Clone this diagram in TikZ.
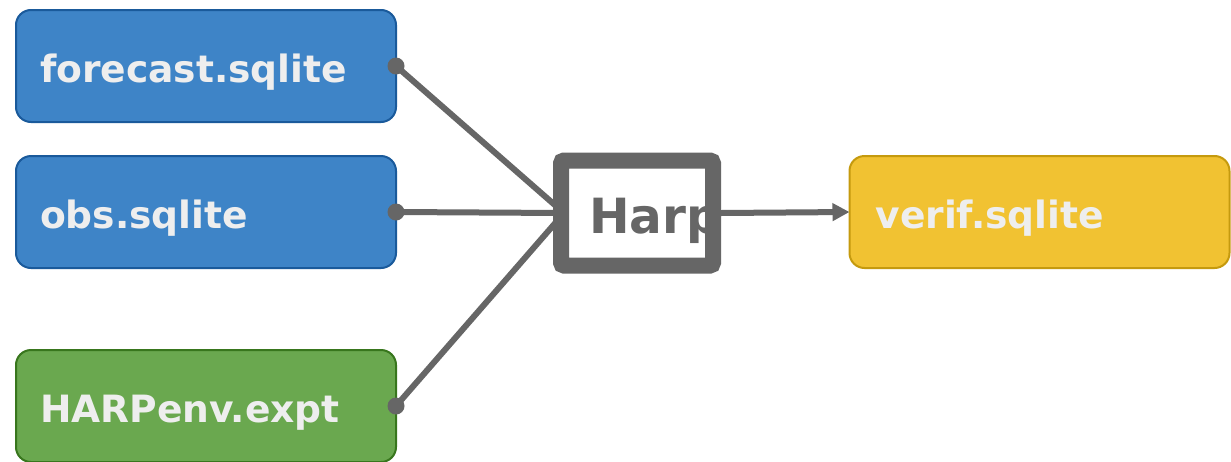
\documentclass[tikz,border=0pt]{standalone}
\usepackage{fontspec}
\setmainfont{DejaVu Sans}
\usetikzlibrary{arrows.meta}
\definecolor{bluefill}{HTML}{3E84C7}
\definecolor{blueline}{HTML}{1A5A9B}
\definecolor{greenfill}{HTML}{6AA84F}
\definecolor{greenline}{HTML}{38761D}
\definecolor{yellowfill}{HTML}{F1C232}
\definecolor{yellowline}{HTML}{C59A0E}
\definecolor{txt}{HTML}{EEEEEE}
\definecolor{conn}{HTML}{666666}
\tikzset{
  filebox/.style={rectangle, rounded corners=15pt, line width=2pt, outer sep=0pt,
    minimum width=380pt, minimum height=112pt, text width=332pt, inner xsep=24pt,
    align=left, text height=32pt, text depth=0pt, text=txt,
    font=\fontsize{37.6}{44}\selectfont\bfseries},
  inbox/.style={filebox, fill=bluefill, draw=blueline},
  envbox/.style={filebox, fill=greenfill, draw=greenline},
  outbox/.style={filebox, fill=yellowfill, draw=yellowline, inner xsep=26pt, text width=328pt},
  harpbox/.style={rectangle, draw=conn, line width=16pt, rounded corners=3pt,
    minimum width=152pt, minimum height=105pt},
  harptext/.style={text=conn, font=\fontsize{48.5}{56}\selectfont\bfseries, inner sep=0pt},
  link/.style={draw=conn, line width=6pt},
  dot/.style={circle, fill=conn, minimum size=17pt, inner sep=0pt},
}
\begin{document}
\begin{tikzpicture}[x=1pt,y=-1pt]
\clip (0,0) rectangle (1231,461);
\fill[white] (0,0) rectangle (1231,461);
\node[inbox] (fc) at (206,66) {forecast.sqlite};
\node[inbox] (obs) at (206,212) {obs.sqlite};
\node[envbox] (env) at (206,406) {HARPenv.expt};
\node[outbox] (verif) at (1039.5,212) {verif.sqlite};
\coordinate (harpin) at (564,213);
\foreach \n in {fc,obs,env}{
  \draw[link] (\n.east) -- (harpin);
  \node[dot] (dot-\n) at (\n.east) {};
}
\node[harptext, anchor=base west] (harplabel) at (589,233) {Harp};
\node[harpbox] (harp) at (637,213) {};
\draw[link, -{Triangle[length=17pt,width=17pt]}] (harp.east) -- (verif.west);
\end{tikzpicture}
\end{document}
